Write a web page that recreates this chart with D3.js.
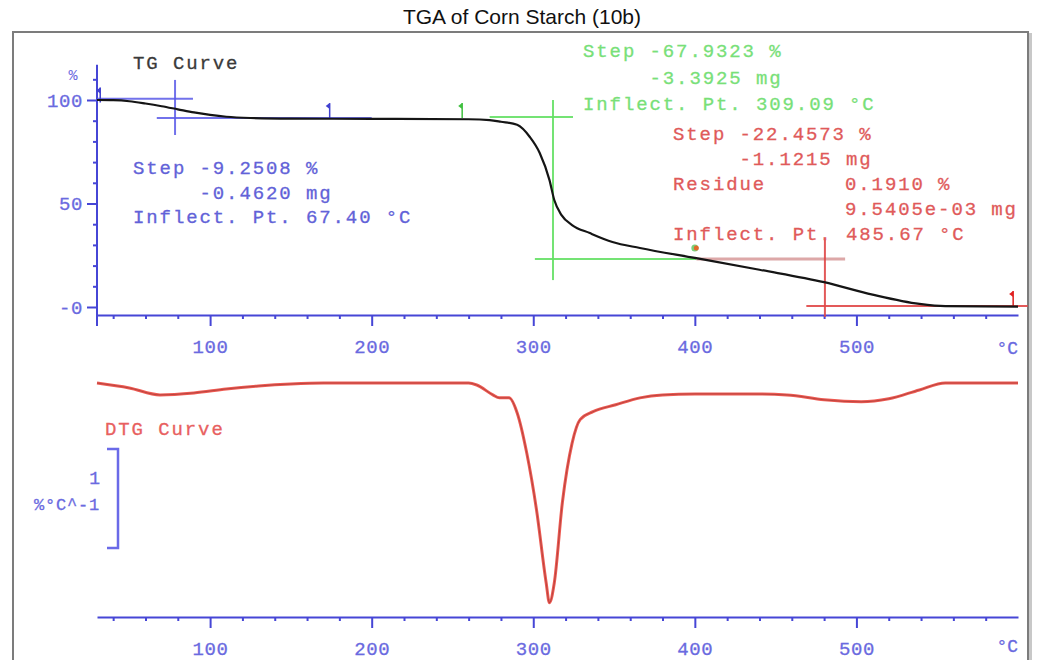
<!DOCTYPE html>
<html>
<head>
<meta charset="utf-8">
<script src="https://cdn.jsdelivr.net/npm/d3@7"></script>
<style>
  html, body { margin: 0; padding: 0; background: #fff; }
  svg { display: block; }
</style>
</head>
<body>
<svg id="chart" width="1038" height="660"></svg>
<script>
// ---------------- DATA ----------------
const title = "TGA of Corn Starch (10b)";
// TG curve: temperature (°C) and mass (%)
const tgTemp = [30, 40, 50, 60, 70, 80, 90, 100, 110, 125, 150, 200, 260, 273, 280, 290, 298, 304, 310, 313, 317.5, 324, 335, 349, 366, 400, 440, 480, 510, 539, 555, 600];
const tgMass = [100, 99.9, 99.4, 98.3, 97.0, 95.5, 94.0, 92.8, 91.9, 91.3, 91.0, 90.9, 90.7, 90.3, 89.5, 88.0, 82.0, 74.4, 61.4, 51.7, 44.4, 39.6, 35.7, 31.4, 28.5, 23.7, 18.0, 12.0, 6.0, 1.5, 0.4, 0.2];
// DTG curve: temperature (°C) and derivative (%/°C)
const dtgTemp = [30, 50, 69, 90, 110, 130, 150, 170, 260, 265, 275, 279, 285, 290, 296, 302, 308, 310, 313, 318, 324, 329, 337, 351, 366, 380, 400, 430, 457, 480, 503, 520, 539, 555, 600];
const dtgRate = [0, -0.05, -0.12, -0.10, -0.06, -0.03, -0.01, 0, 0, -0.02, -0.12, -0.15, -0.15, -0.30, -0.71, -1.28, -2.02, -2.22, -2.02, -1.21, -0.61, -0.37, -0.29, -0.22, -0.15, -0.12, -0.11, -0.11, -0.12, -0.17, -0.19, -0.16, -0.07, 0, 0];

const xMajorTicks = [100, 200, 300, 400, 500];
const xMinorTicks = [40, 60, 80, 120, 140, 160, 180, 220, 240, 260, 280, 320, 340, 360, 380, 420, 440, 460, 480, 520, 540, 560, 580];
const yMajorTicks = [0, 50, 100];
const yTickLabels = ["-0", "50", "100"];
const yMinorTicks = [10, 20, 30, 40, 60, 70, 80, 90, 110];
const xUnit = "°C";
const yUnit = "%";
const dtgScaleLabel = ["1", "%°C^-1"];

// Evaluation annotations (temperature °C / mass %)
const blueText = ["Step -9.2508 %", "     -0.4620 mg", "Inflect. Pt. 67.40 °C"];
const greenText = ["Step -67.9323 %", "     -3.3925 mg", "Inflect. Pt. 309.09 °C"];
const redText = ["Step -22.4573 %", "     -1.1215 mg", "Residue", "Inflect. Pt. 485.67 °C"];
const redTextRight = ["0.1910 %", "9.5405e-03 mg"];
// lines: [T1, m1, T2, m2]
const blueLines = [[30, 100.6, 89.4, 100.6], [67, 91.3, 200, 91.3], [78.3, 109.7, 78.3, 83.1]];
const greenLines = [[273, 91.8, 324.6, 91.8], [312.2, 100, 312.2, 13], [301, 23.2, 401, 23.2]];
const pinkLines = [[401, 23.2, 493, 23.2]];
const redLines = [[480.5, 32.4, 480.5, -4.8], [469, 0.5, 606, 0.5]];
// limit flags [T, mass at top]
const blueFlags = [[32, 106], [174, 98.5]];
const greenFlags = [[256, 98.5]];
const redFlags = [[597, 7.7]];
const midMarker = [400, 28.5];

// ---------------- SCALES ----------------
const svg = d3.select("#chart");
const x = d3.scaleLinear().domain([30, 600]).range([97, 1018]);
const yTG = d3.scaleLinear().domain([0, 100]).range([307, 100]);
const yDTG = d3.scaleLinear().domain([0, -1]).range([383, 482]);
const xAxisTopY = 315, xAxisBotY = 617;

const axisColor = "#4646d6";
const tickTextColor = "#6a6ae0";
const mono = "Liberation Mono, DejaVu Sans Mono, monospace";

// frame
svg.append("rect").attr("x", 13).attr("y", 32).attr("width", 1015).attr("height", 640)
  .attr("fill", "none").attr("stroke", "#7c7c7c").attr("stroke-width", 2);
svg.append("rect").attr("x", 1029).attr("y", 33).attr("width", 3).attr("height", 640)
  .attr("fill", "#c8c8c8");

// title
svg.append("text").attr("x", 522).attr("y", 24).attr("text-anchor", "middle")
  .attr("font-family", "Liberation Sans, Arial, sans-serif").attr("font-size", 21)
  .attr("fill", "#111").text(title);

// ---------------- AXES ----------------
function styleAxis(g) {
  g.selectAll("path, line").attr("stroke", axisColor).attr("stroke-width", 2);
  g.selectAll("text").attr("font-family", mono)
    .attr("font-size", 19).attr("letter-spacing", 0.6).attr("fill", tickTextColor)
    .attr("stroke", tickTextColor).attr("stroke-width", 0.3);
}
function xAxes(yPos, unitDy) {
  const gMinor = svg.append("g").attr("transform", `translate(0,${yPos})`)
    .call(d3.axisBottom(x).tickValues(xMinorTicks).tickSize(4).tickSizeOuter(0).tickFormat(""));
  styleAxis(gMinor);
  const gMajor = svg.append("g").attr("transform", `translate(0,${yPos})`)
    .call(d3.axisBottom(x).tickValues(xMajorTicks).tickSize(11).tickSizeOuter(0).tickPadding(14).tickFormat(d3.format("d")));
  styleAxis(gMajor);
  gMajor.select(".domain").remove();
  svg.append("text").attr("x", 1018).attr("y", yPos + unitDy).attr("text-anchor", "end")
    .attr("font-family", mono).attr("font-size", 18)
    .attr("fill", tickTextColor).attr("stroke", tickTextColor).attr("stroke-width", 0.3).text(xUnit);
}
xAxes(xAxisTopY, 39);
xAxes(xAxisBotY, 35);

// y axis (TG)
const yMinorG = svg.append("g").attr("transform", `translate(${x(30)},0)`)
  .call(d3.axisLeft(yTG).tickValues(yMinorTicks).tickSize(4).tickSizeOuter(0).tickFormat(""));
styleAxis(yMinorG);
yMinorG.select(".domain").remove();
const yMajorG = svg.append("g").attr("transform", `translate(${x(30)},0)`)
  .call(d3.axisLeft(yTG).tickValues(yMajorTicks).tickSize(10).tickSizeOuter(0).tickPadding(4)
    .tickFormat((d, i) => yTickLabels[i]));
styleAxis(yMajorG);
yMajorG.select(".domain").remove();
svg.append("line").attr("x1", x(30)).attr("x2", x(30)).attr("y1", yTG(117)).attr("y2", xAxisTopY + 11)
  .attr("stroke", axisColor).attr("stroke-width", 2);
svg.append("text").attr("x", 73).attr("y", 80).attr("text-anchor", "middle")
  .attr("font-family", mono).attr("font-size", 15)
  .attr("fill", tickTextColor).text(yUnit);

// DTG scale bar (1 %/°C)
const barTop = 449, barH = yDTG(-1) - yDTG(0);
svg.append("path")
  .attr("d", `M107,${barTop} H118 V${barTop + barH} H107`)
  .attr("fill", "none").attr("stroke", "#6a6ae8").attr("stroke-width", 2.5);
svg.append("text").attr("x", 100).attr("y", 484).attr("text-anchor", "end")
  .attr("font-family", mono).attr("font-size", 18)
  .attr("fill", tickTextColor).attr("stroke", tickTextColor).attr("stroke-width", 0.3).text(dtgScaleLabel[0]);
svg.append("text").attr("x", 100).attr("y", 510).attr("text-anchor", "end")
  .attr("font-family", mono).attr("font-size", 17).attr("letter-spacing", 0.8)
  .attr("fill", tickTextColor).attr("stroke", tickTextColor).attr("stroke-width", 0.3).text(dtgScaleLabel[1]);

// ---------------- ANNOTATION LINES ----------------
function drawLines(arr, color, w, op) {
  svg.append("g").selectAll("line").data(arr).join("line")
    .attr("x1", d => x(d[0])).attr("y1", d => yTG(d[1]))
    .attr("x2", d => x(d[2])).attr("y2", d => yTG(d[3]))
    .attr("stroke", color).attr("stroke-width", w).attr("opacity", op);
}
drawLines(blueLines, "#5a5ae8", 2, 0.85);
drawLines(greenLines, "#66e066", 2, 0.9);
drawLines(pinkLines, "#d89a9a", 3, 0.85);
drawLines(redLines, "#e04848", 2, 0.9);

function drawFlags(arr, color) {
  const g = svg.append("g");
  arr.forEach(d => {
    const px = x(d[0]), py = yTG(d[1]);
    g.append("line").attr("x1", px).attr("x2", px).attr("y1", py).attr("y2", py + 15)
      .attr("stroke", color).attr("stroke-width", 1.5);
    g.append("path").attr("d", `M${px},${py} L${px - 4},${py + 3} L${px},${py + 6} Z`).attr("fill", color);
  });
}
drawFlags(blueFlags, "#4040d0");
drawFlags(greenFlags, "#40c040");
drawFlags(redFlags, "#e02020");
// mid marker at 400 °C
svg.append("circle").attr("cx", x(midMarker[0])).attr("cy", yTG(midMarker[1])).attr("r", 3.5).attr("fill", "#7ad07a");
svg.append("circle").attr("cx", x(midMarker[0]) + 1.5).attr("cy", yTG(midMarker[1])).attr("r", 2.5).attr("fill", "#e06a2a");

// ---------------- CURVES ----------------
const tgData = tgTemp.map((t, i) => [t, tgMass[i]]);
const dtgData = dtgTemp.map((t, i) => [t, dtgRate[i]]);
const tgLine = d3.line().x(d => x(d[0])).y(d => yTG(d[1])).curve(d3.curveMonotoneX);
const dtgLine = d3.line().x(d => x(d[0])).y(d => yDTG(d[1])).curve(d3.curveMonotoneX);
svg.append("path").datum(tgData).attr("d", tgLine)
  .attr("fill", "none").attr("stroke", "#151515").attr("stroke-width", 2.2);
svg.append("path").datum(dtgData).attr("d", dtgLine)
  .attr("fill", "none").attr("stroke", "#ee5a52").attr("stroke-width", 3);
svg.append("path").datum(dtgData).attr("d", dtgLine)
  .attr("fill", "none").attr("stroke", "#5a2020").attr("stroke-width", 0.8).attr("opacity", 0.45);

// ---------------- TEXTS ----------------
function textBlock(lines, x0, y0, dy, color) {
  svg.append("g").selectAll("text").data(lines).join("text")
    .attr("x", x0).attr("y", (d, i) => y0 + i * dy)
    .attr("font-family", mono).attr("font-size", 19)
    .attr("letter-spacing", 1.9).attr("xml:space", "preserve").style("white-space", "pre")
    .attr("fill", color).attr("stroke", color).attr("stroke-width", 0.3).text(d => d);
}
textBlock(["TG Curve"], 133, 69, 0, "#3a3a3a");
textBlock(blueText, 133, 174, 24.5, "#6262d8");
textBlock(greenText, 583, 57, 26.5, "#78e078");
textBlock([redText[0], redText[1], redText[2]], 673, 140, 25, "#e05a5a");
textBlock([redText[3]], 673, 240, 0, "#e05a5a");
textBlock(redTextRight, 845, 190, 25, "#e05a5a");
textBlock(["DTG Curve"], 105, 435, 0, "#e86060");
</script>
</body>
</html>
